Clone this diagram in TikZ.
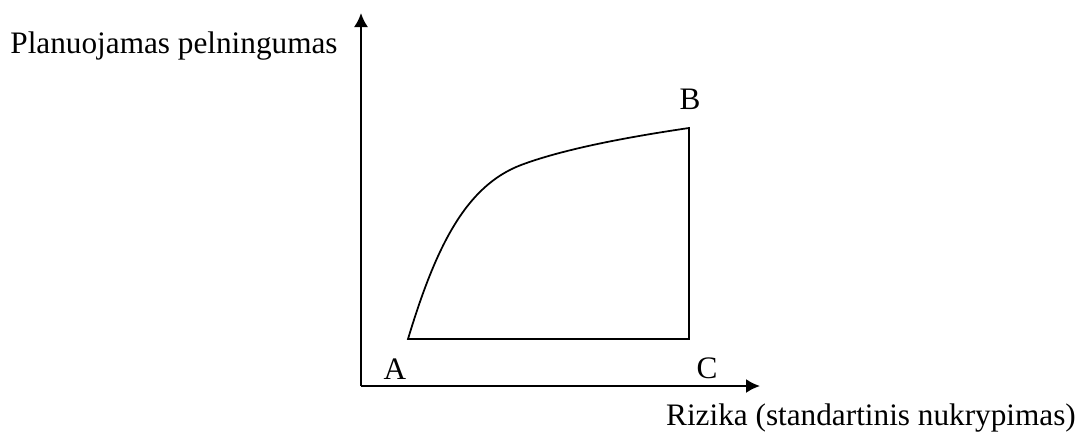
\documentclass[tikz,border=0pt]{standalone}
\usepackage{fontspec}
\setmainfont{Liberation Serif}
\usetikzlibrary{arrows.meta}
\usetikzlibrary{math}

\begin{document}
\begin{tikzpicture}[x=0.4pt,y=0.4pt]
\tikzmath{
\X=399;
\Y=373;
\xa=47;
\xc=328;
\ya=47;
\yb=258;
}
\fontsize{12.5}{15}\selectfont
\useasboundingbox (-361,-50) rectangle (716,386);

\coordinate (O) at (0,0);
\coordinate (xend) at (\X,0);
\coordinate (yend) at (0,\Y);
\coordinate (pa) at (\xa,\ya);
\coordinate (pb) at (\xc,\yb);
\coordinate (pc) at (\xc,\ya);

\draw[line width=0.8pt,-{Latex[length=5.6pt,width=5.6pt]}] (O) -- (xend);
\draw[line width=0.8pt,-{Latex[length=5.6pt,width=5.6pt]}] (O) -- (yend);

\draw[line width=0.7pt] (pa) .. controls (75,140) and (105,200) .. (160,221)
  .. controls (200,236) and (260,248) .. (pb) -- (pc) -- cycle;

\node (A) at (34,17) {A};
\node (B) at (329,287) {B};
\node (C) at (346,18) {C};

\node (ylabel) at (-187,340) {Planuojamas pelningumas};
\node (xlabel) at (510,-32) {Rizika (standartinis nukrypimas)};

\end{tikzpicture}
\end{document}
